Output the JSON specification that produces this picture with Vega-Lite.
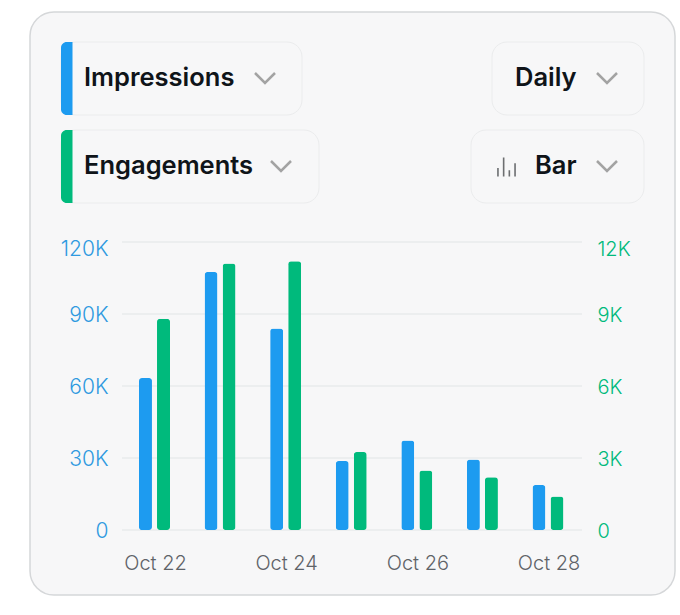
{
  "$schema": "https://vega.github.io/schema/vega-lite/v6.json",
  "width": 645,
  "height": 583,
  "autosize": "none",
  "padding": {"left": 30, "top": 12, "right": 5, "bottom": 20},
  "background": "white",
  "view": {"fill": "#f7f7f8", "stroke": "#d5d7d9", "strokeWidth": 1.5, "cornerRadius": 24},
  "config": {
    "text": {"font": "Inter", "fontSize": 25.5, "fontWeight": 600, "color": "#0f1419", "align": "left", "baseline": "alphabetic"},
    "axis": {"labelFont": "Inter", "labelFontSize": 20, "labelFontWeight": 300, "domain": false, "ticks": false, "grid": false, "title": null, "labelOverlap": false, "labelBound": false, "labelFlush": false}
  },
  "datasets": {
    "daily": [
      {"day": "Oct 22", "metric": "Impressions", "value": 63300},
      {"day": "Oct 23", "metric": "Impressions", "value": 107500},
      {"day": "Oct 24", "metric": "Impressions", "value": 84000},
      {"day": "Oct 25", "metric": "Impressions", "value": 28700},
      {"day": "Oct 26", "metric": "Impressions", "value": 37300},
      {"day": "Oct 27", "metric": "Impressions", "value": 29400},
      {"day": "Oct 28", "metric": "Impressions", "value": 18700},
      {"day": "Oct 22", "metric": "Engagements", "value": 8800},
      {"day": "Oct 23", "metric": "Engagements", "value": 11100},
      {"day": "Oct 24", "metric": "Engagements", "value": 11200},
      {"day": "Oct 25", "metric": "Engagements", "value": 3250},
      {"day": "Oct 26", "metric": "Engagements", "value": 2480},
      {"day": "Oct 27", "metric": "Engagements", "value": 2200},
      {"day": "Oct 28", "metric": "Engagements", "value": 1400}
    ],
    "ticks": [{"tick": 0}, {"tick": 30000}, {"tick": 60000}, {"tick": 90000}, {"tick": 120000}],
    "one": [{"item": "control"}]
  },
  "layer": [
    {
      "data": {"name": "one"},
      "layer": [
        {
          "mark": {"type": "rect", "fill": "#f7f7f8", "stroke": "#ebeced", "strokeWidth": 1, "cornerRadius": 15},
          "encoding": {
            "x": {"datum": 61, "type": "quantitative", "axis": null, "scale": {"domain": [30, 675], "range": [0, 645]}},
            "x2": {"datum": 302},
            "y": {"datum": 42, "type": "quantitative", "axis": null, "scale": {"domain": [12, 595], "range": [0, 583]}},
            "y2": {"datum": 115}
          }
        },
        {
          "mark": {"type": "rect", "fill": "#f7f7f8", "stroke": "#ebeced", "strokeWidth": 1, "cornerRadius": 15},
          "encoding": {
            "x": {"datum": 61, "type": "quantitative", "axis": null, "scale": {"domain": [30, 675], "range": [0, 645]}},
            "x2": {"datum": 319},
            "y": {"datum": 130, "type": "quantitative", "axis": null, "scale": {"domain": [12, 595], "range": [0, 583]}},
            "y2": {"datum": 203}
          }
        },
        {
          "mark": {"type": "rect", "fill": "#f7f7f8", "stroke": "#ebeced", "strokeWidth": 1, "cornerRadius": 15},
          "encoding": {
            "x": {"datum": 492, "type": "quantitative", "axis": null, "scale": {"domain": [30, 675], "range": [0, 645]}},
            "x2": {"datum": 644},
            "y": {"datum": 42, "type": "quantitative", "axis": null, "scale": {"domain": [12, 595], "range": [0, 583]}},
            "y2": {"datum": 115}
          }
        },
        {
          "mark": {"type": "rect", "fill": "#f7f7f8", "stroke": "#ebeced", "strokeWidth": 1, "cornerRadius": 15},
          "encoding": {
            "x": {"datum": 471, "type": "quantitative", "axis": null, "scale": {"domain": [30, 675], "range": [0, 645]}},
            "x2": {"datum": 644},
            "y": {"datum": 130, "type": "quantitative", "axis": null, "scale": {"domain": [12, 595], "range": [0, 583]}},
            "y2": {"datum": 203}
          }
        },
        {
          "mark": {"type": "rect", "fill": "#1d9bf0", "cornerRadiusTopLeft": 11, "cornerRadiusBottomLeft": 11},
          "encoding": {
            "x": {"datum": 61, "type": "quantitative", "axis": null, "scale": {"domain": [30, 675], "range": [0, 645]}},
            "x2": {"datum": 72.5},
            "y": {"datum": 42, "type": "quantitative", "axis": null, "scale": {"domain": [12, 595], "range": [0, 583]}},
            "y2": {"datum": 115}
          }
        },
        {
          "mark": {"type": "rect", "fill": "#00ba7c", "cornerRadiusTopLeft": 11, "cornerRadiusBottomLeft": 11},
          "encoding": {
            "x": {"datum": 61, "type": "quantitative", "axis": null, "scale": {"domain": [30, 675], "range": [0, 645]}},
            "x2": {"datum": 72.5},
            "y": {"datum": 130, "type": "quantitative", "axis": null, "scale": {"domain": [12, 595], "range": [0, 583]}},
            "y2": {"datum": 203}
          }
        },
        {
          "mark": {"type": "text", "text": "Impressions"},
          "encoding": {
            "x": {"datum": 84, "type": "quantitative", "axis": null, "scale": {"domain": [30, 675], "range": [0, 645]}},
            "y": {"datum": 86, "type": "quantitative", "axis": null, "scale": {"domain": [12, 595], "range": [0, 583]}}
          }
        },
        {
          "mark": {"type": "text", "text": "Engagements"},
          "encoding": {
            "x": {"datum": 84, "type": "quantitative", "axis": null, "scale": {"domain": [30, 675], "range": [0, 645]}},
            "y": {"datum": 174, "type": "quantitative", "axis": null, "scale": {"domain": [12, 595], "range": [0, 583]}}
          }
        },
        {
          "mark": {"type": "text", "text": "Daily"},
          "encoding": {
            "x": {"datum": 515, "type": "quantitative", "axis": null, "scale": {"domain": [30, 675], "range": [0, 645]}},
            "y": {"datum": 86, "type": "quantitative", "axis": null, "scale": {"domain": [12, 595], "range": [0, 583]}}
          }
        },
        {
          "mark": {"type": "text", "text": "Bar"},
          "encoding": {
            "x": {"datum": 535, "type": "quantitative", "axis": null, "scale": {"domain": [30, 675], "range": [0, 645]}},
            "y": {"datum": 174, "type": "quantitative", "axis": null, "scale": {"domain": [12, 595], "range": [0, 583]}}
          }
        },
        {
          "mark": {"type": "point", "shape": "M-1,-0.5L0,0.5L1,-0.5", "size": 400, "stroke": "#808080", "strokeWidth": 2.5, "fill": "transparent", "filled": false},
          "encoding": {
            "x": {"datum": 265, "type": "quantitative", "axis": null, "scale": {"domain": [30, 675], "range": [0, 645]}},
            "y": {"datum": 78, "type": "quantitative", "axis": null, "scale": {"domain": [12, 595], "range": [0, 583]}}
          }
        },
        {
          "mark": {"type": "point", "shape": "M-1,-0.5L0,0.5L1,-0.5", "size": 400, "stroke": "#808080", "strokeWidth": 2.5, "fill": "transparent", "filled": false},
          "encoding": {
            "x": {"datum": 281, "type": "quantitative", "axis": null, "scale": {"domain": [30, 675], "range": [0, 645]}},
            "y": {"datum": 166, "type": "quantitative", "axis": null, "scale": {"domain": [12, 595], "range": [0, 583]}}
          }
        },
        {
          "mark": {"type": "point", "shape": "M-1,-0.5L0,0.5L1,-0.5", "size": 400, "stroke": "#808080", "strokeWidth": 2.5, "fill": "transparent", "filled": false},
          "encoding": {
            "x": {"datum": 607, "type": "quantitative", "axis": null, "scale": {"domain": [30, 675], "range": [0, 645]}},
            "y": {"datum": 78, "type": "quantitative", "axis": null, "scale": {"domain": [12, 595], "range": [0, 583]}}
          }
        },
        {
          "mark": {"type": "point", "shape": "M-1,-0.5L0,0.5L1,-0.5", "size": 400, "stroke": "#808080", "strokeWidth": 2.5, "fill": "transparent", "filled": false},
          "encoding": {
            "x": {"datum": 607, "type": "quantitative", "axis": null, "scale": {"domain": [30, 675], "range": [0, 645]}},
            "y": {"datum": 166, "type": "quantitative", "axis": null, "scale": {"domain": [12, 595], "range": [0, 583]}}
          }
        },
        {
          "mark": {"type": "point", "shape": "M-0.9,1V0.1M-0.3,1V-1M0.3,1V0.35M0.9,1V-0.4", "size": 361, "stroke": "#333639", "strokeWidth": 1.6, "fill": "transparent", "filled": false},
          "encoding": {
            "x": {"datum": 506.5, "type": "quantitative", "axis": null, "scale": {"domain": [30, 675], "range": [0, 645]}},
            "y": {"datum": 167, "type": "quantitative", "axis": null, "scale": {"domain": [12, 595], "range": [0, 583]}}
          }
        }
      ]
    },
    {
      "data": {"name": "ticks"},
      "mark": {"type": "rule", "stroke": "#e9ebed", "strokeWidth": 1.5},
      "encoding": {
        "x": {"datum": 122, "type": "quantitative", "axis": null, "scale": {"domain": [30, 675], "range": [0, 645]}},
        "x2": {"datum": 582},
        "y": {"field": "tick", "type": "quantitative", "axis": null, "scale": {"domain": [0, 120000], "range": [518, 230]}}
      }
    },
    {
      "data": {"name": "daily"},
      "transform": [{"filter": "datum.metric == 'Impressions'"}],
      "mark": {"type": "bar", "width": 13, "cornerRadius": 3, "color": "#1d9bf0"},
      "encoding": {
        "x": {
          "field": "day",
          "type": "nominal",
          "sort": null,
          "scale": {"range": [91.7, 550.8], "paddingInner": 0.45, "paddingOuter": 0.225},
          "axis": {"values": ["Oct 22", "Oct 24", "Oct 26", "Oct 28"], "labelColor": "#5f6368", "labelAngle": 0, "labelPadding": -42, "labelOffset": 1}
        },
        "xOffset": {"field": "metric", "scale": {"domain": ["Impressions", "Engagements"]}},
        "y": {
          "field": "value",
          "type": "quantitative",
          "scale": {"domain": [0, 120000], "range": [518, 230]},
          "axis": {
            "orient": "left",
            "values": [0, 30000, 60000, 90000, 120000],
            "labelExpr": "datum.value == 0 ? '0' : datum.value / 1000 + 'K'",
            "labelColor": "#2f9ae0",
            "labelFontSize": 21,
            "labelAlign": "right",
            "labelPadding": -78,
            "labelOffset": {"condition": {"test": "datum.value == 120000", "value": 7}, "value": 1}
          }
        }
      }
    },
    {
      "data": {"name": "daily"},
      "transform": [{"filter": "datum.metric == 'Engagements'"}],
      "mark": {"type": "bar", "width": 13, "cornerRadius": 3, "color": "#00ba7c"},
      "encoding": {
        "x": {
          "field": "day",
          "type": "nominal",
          "sort": null,
          "axis": null,
          "scale": {"range": [91.7, 550.8], "paddingInner": 0.45, "paddingOuter": 0.225}
        },
        "xOffset": {"field": "metric", "scale": {"domain": ["Impressions", "Engagements"]}},
        "y": {
          "field": "value",
          "type": "quantitative",
          "scale": {"domain": [0, 12000], "range": [518, 230]},
          "axis": {
            "orient": "right",
            "values": [0, 3000, 6000, 9000, 12000],
            "labelExpr": "datum.value == 0 ? '0' : datum.value / 1000 + 'K'",
            "labelColor": "#00ba7c",
            "labelAlign": "left",
            "labelPadding": -78,
            "labelOffset": {"condition": {"test": "datum.value == 12000", "value": 7}, "value": 1}
          }
        }
      }
    }
  ],
  "resolve": {"scale": {"x": "independent", "y": "independent", "xOffset": "independent"}, "axis": {"x": "independent", "y": "independent"}}
}
